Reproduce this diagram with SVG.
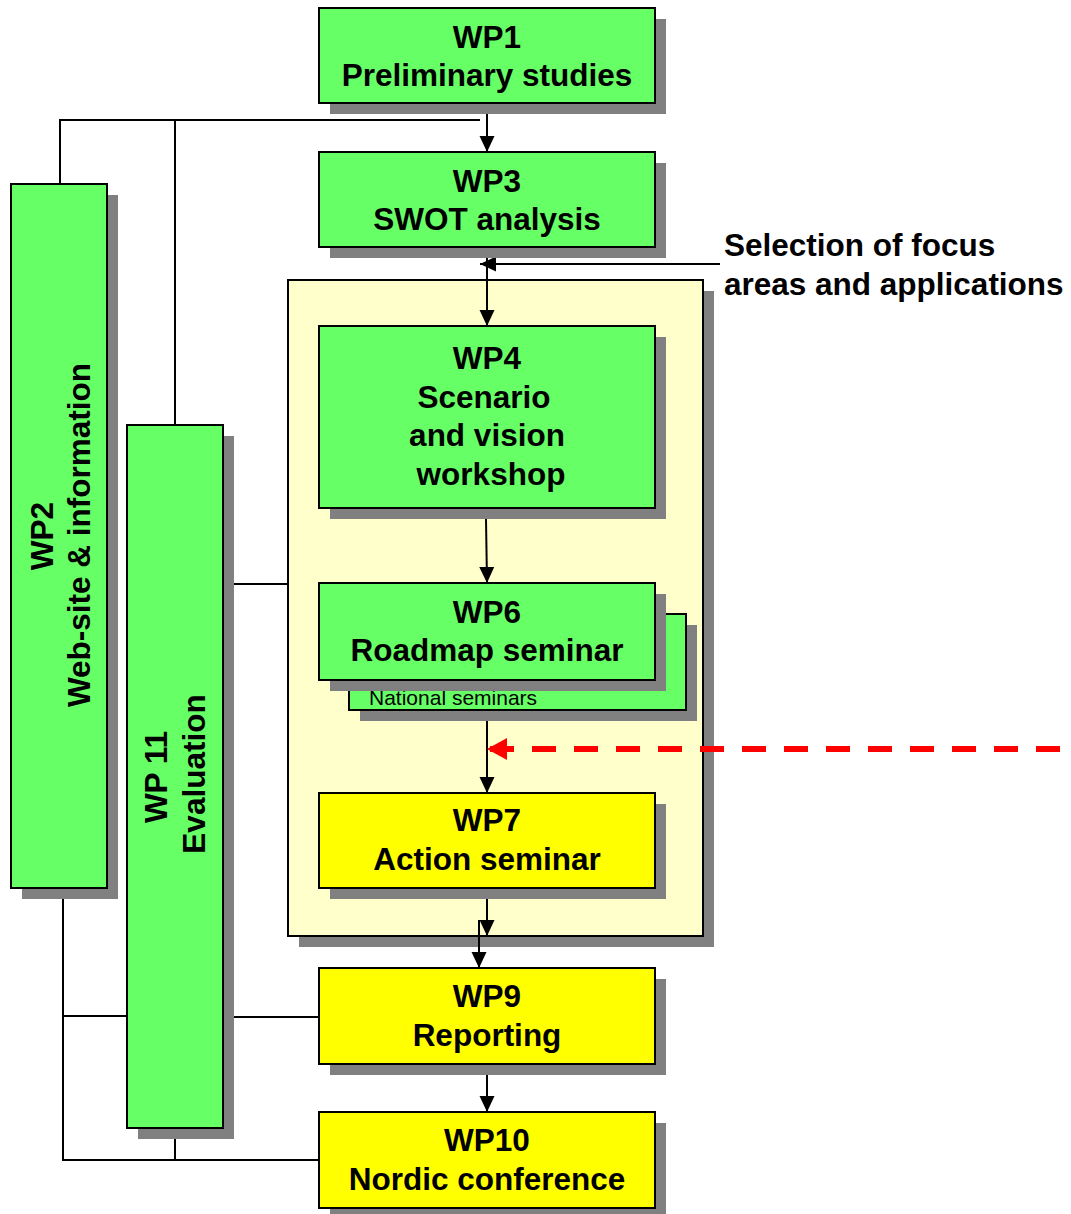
<svg xmlns="http://www.w3.org/2000/svg" width="1071" height="1214" viewBox="0 0 1071 1214">
<style>
.sh{fill:#808080;stroke:none}
.g{fill:#66FF66;stroke:#000;stroke-width:2}
.y{fill:#FFFF00;stroke:#000;stroke-width:2}
.c{fill:#FFFFCC;stroke:#000;stroke-width:2}
.t{font-family:"Liberation Sans",Arial,sans-serif;font-weight:bold;font-size:31.5px;fill:#000;text-anchor:middle}
.tl{font-family:"Liberation Sans",Arial,sans-serif;font-weight:bold;font-size:31.5px;fill:#000}
.n{font-family:"Liberation Sans",Arial,sans-serif;font-size:21px;fill:#000}
.ln{fill:none;stroke:#000;stroke-width:2}
.ar{fill:none;stroke:#000;stroke-width:2;marker-end:url(#ah)}
</style>
<defs>
<marker id="ah" markerUnits="userSpaceOnUse" markerWidth="16" markerHeight="16" viewBox="0 0 16 16" refX="16" refY="8" orient="auto">
<path d="M0,0.5 L16,8 L0,15.5 Z" fill="#000"/>
</marker>
<marker id="rh" markerUnits="userSpaceOnUse" markerWidth="20" markerHeight="22" viewBox="0 0 20 22" refX="20" refY="11" orient="auto">
<path d="M0,0 L20,11 L0,22 Z" fill="#FF0000"/>
</marker>
</defs>

<g id="container">
<rect class="sh" x="299" y="291" width="415" height="656"/>
<rect class="c" x="288" y="280" width="415" height="656"/>
</g>

<g id="connectors">
<polyline class="ln" points="60,184 60,120 480,120"/>
<line class="ln" x1="175" y1="120" x2="175" y2="425"/>
<line class="ln" x1="234" y1="584" x2="288" y2="584"/>
<polyline class="ln" points="63,899 63,1160 319,1160"/>
<line class="ln" x1="63" y1="1016" x2="127" y2="1016"/>
<line class="ln" x1="234" y1="1017" x2="319" y2="1017"/>
<line class="ln" x1="175" y1="1139" x2="175" y2="1160"/>
<line class="ar" x1="487" y1="103" x2="487" y2="152"/>
<line class="ar" x1="720" y1="264" x2="480" y2="264"/>
<line class="ar" x1="487" y1="247" x2="487" y2="326"/>
<line class="ar" x1="486" y1="519" x2="487" y2="583"/>
<line class="ar" x1="487" y1="721" x2="487" y2="793"/>
<line class="ar" x1="487" y1="899" x2="487" y2="936"/>
<line class="ar" x1="479" y1="920" x2="479" y2="968"/>
<line class="ar" x1="487" y1="1064" x2="487" y2="1112"/>
<line x1="1060" y1="749" x2="487" y2="749" stroke="#FF0000" stroke-width="6" stroke-dasharray="24,18" marker-end="url(#rh)"/>
</g>

<g id="WP1">
<rect class="sh" x="330" y="19" width="336" height="95"/>
<rect class="g" x="319" y="8" width="336" height="95"/>
<text class="t" x="487" y="48">WP1</text>
<text class="t" x="487" y="86">Preliminary studies</text>
</g>

<g id="WP3">
<rect class="sh" x="330" y="163" width="336" height="95"/>
<rect class="g" x="319" y="152" width="336" height="95"/>
<text class="t" x="487" y="192">WP3</text>
<text class="t" x="487" y="230">SWOT analysis</text>
</g>

<g id="selection">
<text class="tl" x="724" y="256">Selection of focus</text>
<text class="tl" x="724" y="295">areas and applications</text>
</g>

<g id="WP2">
<rect class="sh" x="22" y="195" width="96" height="704"/>
<rect class="g" x="11" y="184" width="96" height="704"/>
<text class="t" transform="translate(53,536) rotate(-90)">WP2</text>
<text class="t" transform="translate(90,535) rotate(-90)">Web-site &amp; information</text>
</g>

<g id="WP11">
<rect class="sh" x="138" y="436" width="96" height="703"/>
<rect class="g" x="127" y="425" width="96" height="703"/>
<text class="t" transform="translate(167,777) rotate(-90)">WP 11</text>
<text class="t" transform="translate(205,774) rotate(-90)">Evaluation</text>
</g>

<g id="WP4">
<rect class="sh" x="330" y="337" width="336" height="182"/>
<rect class="g" x="319" y="326" width="336" height="182"/>
<text class="t" x="487" y="369">WP4</text>
<text class="t" x="484" y="408">Scenario</text>
<text class="t" x="487" y="446">and vision</text>
<text class="t" x="491" y="485">workshop</text>
</g>

<g id="national">
<rect class="sh" x="360" y="625" width="337" height="96"/>
<rect class="g" x="349" y="614" width="337" height="96"/>
<text class="n" x="369" y="705">National seminars</text>
</g>

<g id="WP6">
<rect class="sh" x="330" y="594" width="336" height="97"/>
<rect class="g" x="319" y="583" width="336" height="97"/>
<text class="t" x="487" y="623">WP6</text>
<text class="t" x="487" y="661">Roadmap seminar</text>
</g>

<g id="WP7">
<rect class="sh" x="330" y="804" width="336" height="95"/>
<rect class="y" x="319" y="793" width="336" height="95"/>
<text class="t" x="487" y="831">WP7</text>
<text class="t" x="487" y="870">Action seminar</text>
</g>

<g id="WP9">
<rect class="sh" x="330" y="979" width="336" height="96"/>
<rect class="y" x="319" y="968" width="336" height="96"/>
<text class="t" x="487" y="1007">WP9</text>
<text class="t" x="487" y="1046">Reporting</text>
</g>

<g id="WP10">
<rect class="sh" x="330" y="1123" width="336" height="96"/>
<rect class="y" x="319" y="1112" width="336" height="96"/>
<text class="t" x="487" y="1151">WP10</text>
<text class="t" x="487" y="1190">Nordic conference</text>
</g>
</svg>
